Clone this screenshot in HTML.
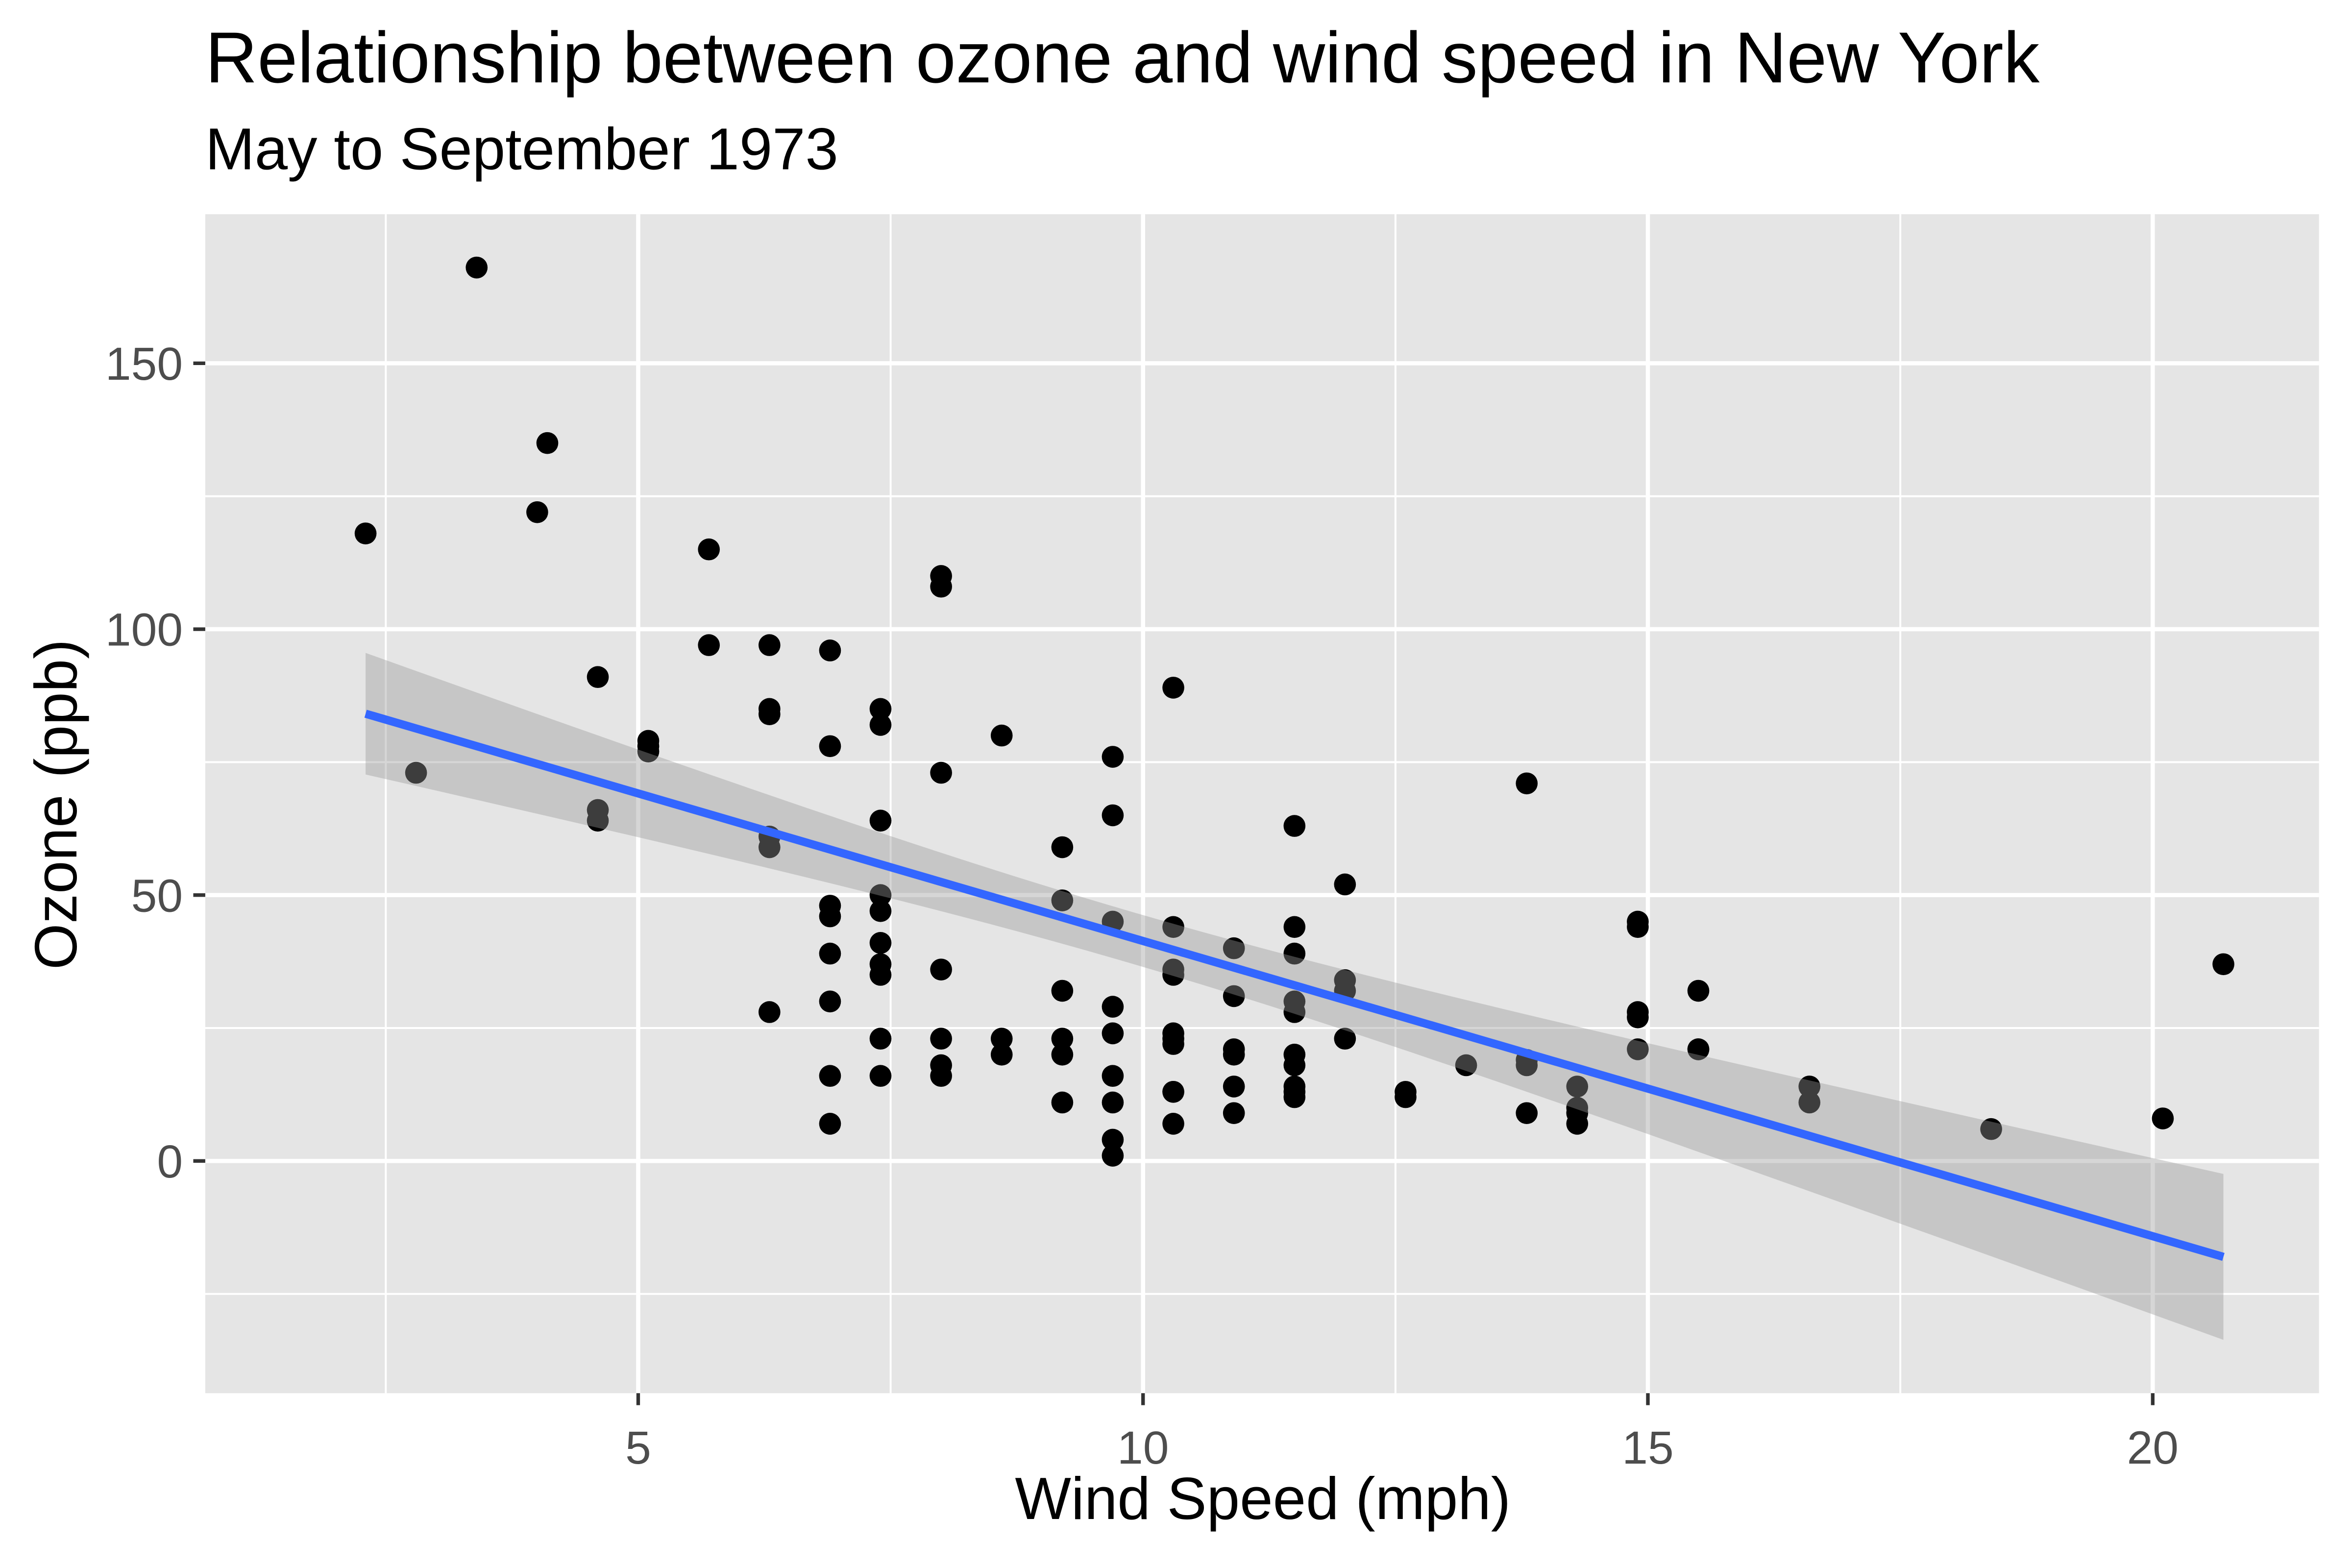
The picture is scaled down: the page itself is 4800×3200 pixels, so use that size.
<!DOCTYPE html>
<html><head><meta charset="utf-8"><style>
html,body{margin:0;padding:0;background:#fff}
svg{display:block}
text{font-family:"Liberation Sans",Arial,sans-serif}
</style></head><body>
<svg id="s" width="4800" height="3200" viewBox="0 0 1570 1046.7" xmlns="http://www.w3.org/2000/svg">
<rect x="0" y="0" width="1570" height="1047" fill="#fff"/>
<rect x="137" y="143" width="1411" height="787" fill="#e5e5e5"/>
<g id="grid"></g>
<g id="pts"></g>
<text x="137" y="55" font-size="48.2" fill="#000">Relationship between ozone and wind speed in New York</text>
<text x="137" y="113" font-size="39.6" fill="#000">May to September 1973</text>
<text x="843" y="1014" font-size="39.7" text-anchor="middle" fill="#000">Wind Speed (mph)</text>
<text transform="translate(51,537) rotate(-90)" font-size="39.7" text-anchor="middle" fill="#000">Ozone (ppb)</text>
<g id="ax"></g>
</svg>
<script>
var NS="http://www.w3.org/2000/svg";
function X(w){return 426+(w-5)*67.4;}
function Y(o){return 775-o*3.55;}
function el(p,t,a,txt){var e=document.createElementNS(NS,t);for(var k in a)e.setAttribute(k,a[k]);if(txt!==undefined)e.textContent=txt;document.getElementById(p).appendChild(e);return e;}
[2.5,7.5,12.5,17.5].forEach(function(v){el("grid","line",{x1:X(v),x2:X(v),y1:143,y2:930,stroke:"#fff","stroke-width":1.3});});
[-25,25,75,125].forEach(function(v){el("grid","line",{x1:137,x2:1548,y1:Y(v),y2:Y(v),stroke:"#fff","stroke-width":1.3});});
[5,10,15,20].forEach(function(v){el("grid","line",{x1:X(v),x2:X(v),y1:143,y2:930,stroke:"#fff","stroke-width":2.8});
 el("ax","line",{x1:X(v),x2:X(v),y1:930,y2:938,stroke:"#333","stroke-width":2.4});
 el("ax","text",{x:X(v),y:977,"font-size":31,"text-anchor":"middle",fill:"#4d4d4d"},""+v);});
[0,50,100,150].forEach(function(v){el("grid","line",{x1:137,x2:1548,y1:Y(v),y2:Y(v),stroke:"#fff","stroke-width":2.8});
 el("ax","line",{x1:129,x2:137,y1:Y(v),y2:Y(v),stroke:"#333","stroke-width":2.4});
 el("ax","text",{x:122,y:Y(v)+11,"font-size":31,"text-anchor":"end",fill:"#4d4d4d"},""+v);});
var d=[[41,7.4],[36,8],[12,12.6],[18,11.5],[28,14.9],[23,8.6],[19,13.8],[8,20.1],[7,6.9],[16,9.7],[11,9.2],[14,10.9],[18,13.2],[14,11.5],[34,12],[6,18.4],[30,11.5],[11,9.7],[1,9.7],[11,16.6],[4,9.7],[32,12],[23,12],[45,14.9],[115,5.7],[37,7.4],[29,9.7],[71,13.8],[39,11.5],[23,8],[21,14.9],[37,20.7],[20,9.2],[12,11.5],[13,10.3],[135,4.1],[49,9.2],[32,9.2],[64,4.6],[40,10.9],[77,5.1],[97,6.3],[97,5.7],[85,7.4],[10,14.3],[27,14.9],[7,14.3],[48,6.9],[35,10.3],[61,6.3],[79,5.1],[63,11.5],[16,6.9],[80,8.6],[108,8],[20,8.6],[52,12],[82,7.4],[50,7.4],[64,7.4],[59,9.2],[39,6.9],[9,13.8],[16,7.4],[78,6.9],[35,7.4],[66,4.6],[122,4],[89,10.3],[110,8],[44,11.5],[28,11.5],[65,9.7],[22,10.3],[59,6.3],[23,7.4],[31,10.9],[44,10.3],[21,15.5],[9,14.3],[45,9.7],[168,3.4],[73,8],[76,9.7],[118,2.3],[84,6.3],[85,6.3],[96,6.9],[78,5.1],[73,2.8],[91,4.6],[47,7.4],[32,15.5],[20,10.9],[23,10.3],[21,10.9],[24,9.7],[44,14.9],[21,15.5],[28,6.3],[9,10.9],[13,11.5],[46,6.9],[18,13.8],[13,10.3],[24,10.3],[16,8],[13,12.6],[23,9.2],[36,10.3],[7,10.3],[14,16.6],[30,6.9],[14,14.3],[18,8],[20,11.5]];
var n=d.length,mx=0,my=0;d.forEach(function(p){mx+=p[1];my+=p[0];});mx/=n;my/=n;
var sxx=0,sxy=0;d.forEach(function(p){sxx+=(p[1]-mx)*(p[1]-mx);sxy+=(p[1]-mx)*(p[0]-my);});
var b=sxy/sxx,a=my-b*mx,sse=0;d.forEach(function(p){var r=p[0]-a-b*p[1];sse+=r*r;});
var s2=sse/(n-2),t=1.981,up=[],lo=[];
for(var i=0;i<=80;i++){var w=2.3+(20.7-2.3)*i/80,f=a+b*w,h=t*Math.sqrt(s2*(1/n+(w-mx)*(w-mx)/sxx));up.push(X(w)+","+Y(f+h));lo.unshift(X(w)+","+Y(f-h));}
d.forEach(function(p){el("pts","circle",{cx:X(p[1]),cy:Y(p[0]),r:7.3,fill:"#000"});});
el("pts","polygon",{points:up.concat(lo).join(" "),fill:"#999","fill-opacity":0.4});
el("pts","line",{x1:X(2.3),y1:Y(a+b*2.3),x2:X(20.7),y2:Y(a+b*20.7),stroke:"#3366ff","stroke-width":5.5});
</script>
</body></html>
